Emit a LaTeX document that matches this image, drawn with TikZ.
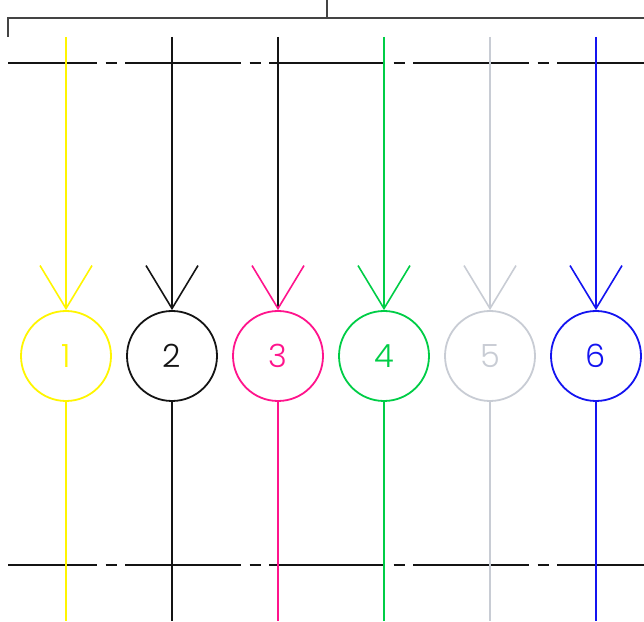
\documentclass[tikz,border=0pt]{standalone}
\usepackage{fontspec}
\setmainfont{Poppins Light}
\usetikzlibrary{arrows.meta, positioning}
\definecolor{dimgrey}{RGB}{68,68,68}
\definecolor{lineyellow}{RGB}{255,245,0}
\definecolor{lineblack}{RGB}{20,20,20}
\definecolor{linepink}{RGB}{255,20,140}
\definecolor{linegreen}{RGB}{0,205,70}
\definecolor{linegrey}{RGB}{200,204,212}
\definecolor{lineblue}{RGB}{20,20,240}

\begin{document}
\begin{tikzpicture}[x=1pt,y=1pt,
  bus/.style={lineblack, line width=1.7pt, dash pattern=on 116pt off 8.5pt on 11pt off 8.5pt, dash phase=27pt},
  drop/.style={line width=1.6pt},
  ball/.style={circle, draw, line width=1.8pt, minimum size=90pt, inner sep=0pt, font=\fontsize{32}{36}\selectfont}]
  \useasboundingbox (0,0) rectangle (644,621);
  \draw[dimgrey, line width=1.5pt] (8,584) -- (8,603) -- (644,603);
  \draw[dimgrey, line width=1.5pt] (327,603) -- (327,621);
  \draw[bus] (8,558) -- (644,558);
  \draw[bus] (8,56) -- (644,56);
  \foreach \n/\x/\c/\t in {1/66/lineyellow/lineyellow, 2/172/lineblack/lineblack, 3/278/linepink/lineblack, 4/384/linegreen/linegreen, 5/490/linegrey/linegrey, 6/596/lineblue/lineblue} {
    \node[ball, \c] (ball\n) at (\x,265) {\n};
    \coordinate (top\n) at (\x,584);
    \coordinate (foot\n) at (\x,0);
    \draw[drop, \t, -{Straight Barb[length=43pt, width=52pt, color=\c]}] (top\n) -- (ball\n.north);
    \draw[drop, \c] (ball\n.south) -- (foot\n);
  }
\end{tikzpicture}
\end{document}
